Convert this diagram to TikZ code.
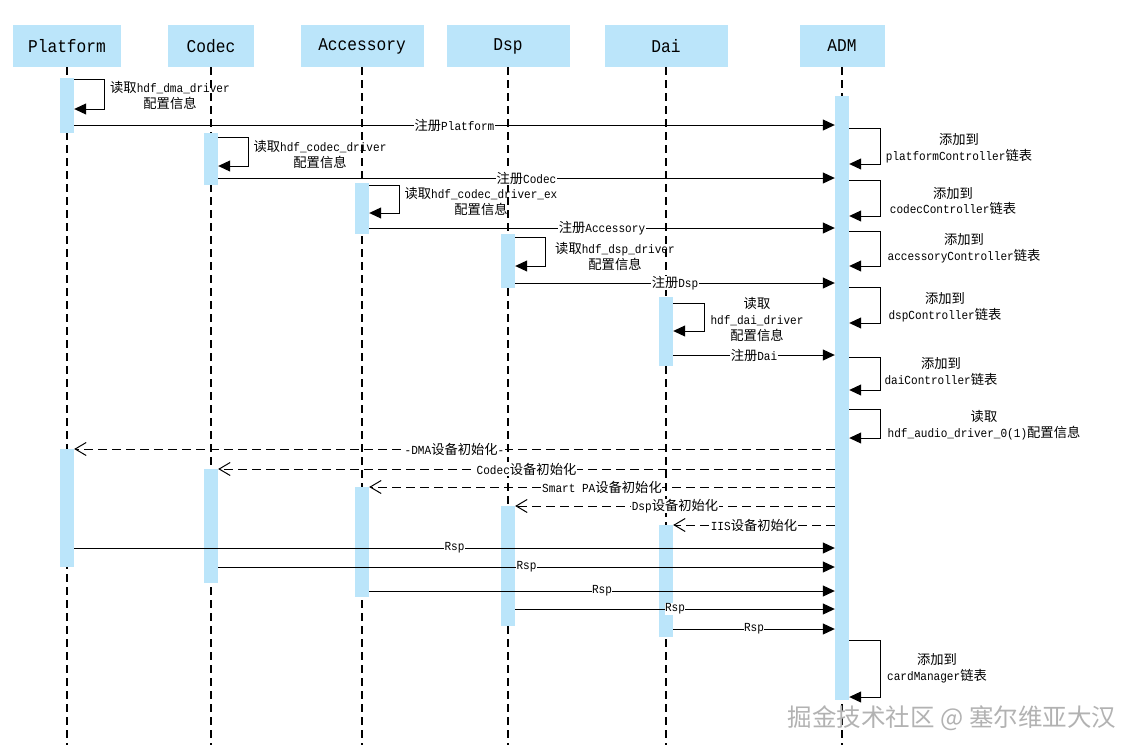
\documentclass[tikz,border=0pt]{standalone}
\usepackage{fontspec}
\setmainfont{Liberation Mono}[FakeStretch=0.9]
\newfontfamily\cjk{Noto Sans CJK SC}[Scale=1.08]
\newfontfamily\cjkmark{Noto Sans CJK SC}
\usetikzlibrary{arrows.meta}
\newcommand{\zh}[1]{{\cjk #1}}
\definecolor{lifeblue}{RGB}{187,229,250}
\tikzset{
	head/.style={fill=lifeblue,minimum height=42pt,inner sep=0pt,font=\fontsize{18}{22}\selectfont},
	life/.style={dash pattern=on 8pt off 5pt,line width=1.2pt},
	act/.style={fill=lifeblue,minimum width=14pt,inner sep=0pt,anchor=north},
	msg/.style={-{Triangle[length=12pt,width=11pt]},line width=1pt},
	ret/.style={-{Straight Barb[length=11pt,width=13pt]},dash pattern=on 9pt off 5pt,line width=1pt},
	lbl/.style={fill=white,inner sep=0.5pt,font=\fontsize{12.3}{15}\selectfont},
	note/.style={align=center,inner sep=0pt,font=\fontsize{12.3}{16}\selectfont}
}
\begin{document}
\begin{tikzpicture}[x=1pt,y=-1pt]
	\useasboundingbox (0,0) rectangle (1141,753);
	%Tieu de
	\node[head,minimum width=108pt] (pf) at (67,46) {Platform};
	\node[head,minimum width=86pt] (cd) at (211,46) {Codec};
	\node[head,minimum width=123pt] (ac) at (362,46) {Accessory};
	\node[head,minimum width=123pt] (ds) at (508,46) {Dsp};
	\node[head,minimum width=123pt] (da) at (666,46) {Dai};
	\node[head,minimum width=85pt] (adm) at (842,46) {ADM};
	%Duong song
	\draw[life] (pf.south) -- (pf.south |- 0,745);
	\draw[life] (cd.south) -- (cd.south |- 0,745);
	\draw[life] (ac.south) -- (ac.south |- 0,745);
	\draw[life] (ds.south) -- (ds.south |- 0,745);
	\draw[life] (da.south) -- (da.south |- 0,745);
	\draw[life] (adm.south) -- (adm.south |- 0,745);
	%Thanh kich hoat
	\node[act,minimum height=55pt] (pf1) at (67,78) {};
	\node[act,minimum height=118pt] (pf2) at (67,449) {};
	\node[act,minimum height=52pt] (cd1) at (211,133) {};
	\node[act,minimum height=114pt] (cd2) at (211,469) {};
	\node[act,minimum height=51pt] (ac1) at (362,183) {};
	\node[act,minimum height=110pt] (ac2) at (362,487) {};
	\node[act,minimum height=54pt] (ds1) at (508,234) {};
	\node[act,minimum height=120pt] (ds2) at (508,506) {};
	\node[act,minimum height=69pt] (da1) at (666,297) {};
	\node[act,minimum height=112pt] (da2) at (666,525) {};
	\node[act,minimum height=604pt] (adm1) at (842,96) {};
	%Platform
	\draw[msg] (pf1.east |- 0,79) -| (104,109) -- (pf1.east |- 0,109);
	\node[note] (pfcfg) at (170,95) {\zh{读取}hdf\_dma\_driver\\\zh{配置信息}};
	\draw[msg] (pf1.east |- 0,125) -- (adm1.west |- 0,125) node[lbl,midway] (pfreg) {\zh{注册}Platform};
	\draw[msg] (adm1.east |- 0,128) -| (880,164) -- (adm1.east |- 0,164);
	\node[note] (pfadd) at (959,148) {\zh{添加到}\\platformController\zh{链表}};
	%Codec
	\draw[msg] (cd1.east |- 0,137) -| (248,166) -- (cd1.east |- 0,166);
	\node[note] (cdcfg) at (320,154) {\zh{读取}hdf\_codec\_driver\\\zh{配置信息}};
	\draw[msg] (cd1.east |- 0,178) -- (adm1.west |- 0,178) node[lbl,midway] (cdreg) {\zh{注册}Codec};
	\draw[msg] (adm1.east |- 0,180) -| (880,216) -- (adm1.east |- 0,216);
	\node[note] (cdadd) at (953,201) {\zh{添加到}\\codecController\zh{链表}};
	%Accessory
	\draw[msg] (ac1.east |- 0,185) -| (399,213) -- (ac1.east |- 0,213);
	\node[note] (accfg) at (481,201) {\zh{读取}hdf\_codec\_driver\_ex\\\zh{配置信息}};
	\draw[msg] (ac1.east |- 0,228) -- (adm1.west |- 0,228) node[lbl,midway] (acreg) {\zh{注册}Accessory};
	\draw[msg] (adm1.east |- 0,231) -| (880,266) -- (adm1.east |- 0,266);
	\node[note] (acadd) at (964,248) {\zh{添加到}\\accessoryController\zh{链表}};
	%Dsp
	\draw[msg] (ds1.east |- 0,237) -| (545,266) -- (ds1.east |- 0,266);
	\node[note] (dscfg) at (615,256) {\zh{读取}hdf\_dsp\_driver\\\zh{配置信息}};
	\draw[msg] (ds1.east |- 0,283) -- (adm1.west |- 0,283) node[lbl,midway] (dsreg) {\zh{注册}Dsp};
	\draw[msg] (adm1.east |- 0,287) -| (880,323) -- (adm1.east |- 0,323);
	\node[note] (dsadd) at (945,307) {\zh{添加到}\\dspController\zh{链表}};
	%Dai
	\draw[msg] (da1.east |- 0,303) -| (704,331) -- (da1.east |- 0,331);
	\node[note] (dacfg) at (757,319) {\zh{读取}\\hdf\_dai\_driver\\\zh{配置信息}};
	\draw[msg] (da1.east |- 0,355) -- (adm1.west |- 0,355) node[lbl,midway] (dareg) {\zh{注册}Dai};
	\draw[msg] (adm1.east |- 0,357) -| (880,390) -- (adm1.east |- 0,390);
	\node[note] (daadd) at (941,371) {\zh{添加到}\\daiController\zh{链表}};
	%ADM doc cau hinh
	\draw[msg] (adm1.east |- 0,409) -| (880,438) -- (adm1.east |- 0,438);
	\node[note] (admcfg) at (984,425) {\zh{读取}\\hdf\_audio\_driver\_0(1)\zh{配置信息}};
	%Khoi tao
	\draw[ret] (adm1.west |- pf2.north) -- (pf2.north east) node[lbl,midway] (pfinit) {-DMA\zh{设备初始化}-};
	\draw[ret] (adm1.west |- cd2.north) -- (cd2.north east) node[lbl,midway] (cdinit) {Codec\zh{设备初始化}};
	\draw[ret] (adm1.west |- ac2.north) -- (ac2.north east) node[lbl,midway] (acinit) {Smart PA\zh{设备初始化}};
	\draw[ret] (adm1.west |- ds2.north) -- (ds2.north east) node[lbl,midway] (dsinit) {Dsp\zh{设备初始化}};
	\draw[ret] (adm1.west |- da2.north) -- (da2.north east) node[lbl,midway] (dainit) {IIS\zh{设备初始化}};
	%Rsp
	\draw[msg] (pf2.east |- 0,548) -- (adm1.west |- 0,548) node[lbl,midway] (pfrsp) {Rsp};
	\draw[msg] (cd2.east |- 0,567) -- (adm1.west |- 0,567) node[lbl,midway] (cdrsp) {Rsp};
	\draw[msg] (ac2.east |- 0,591) -- (adm1.west |- 0,591) node[lbl,midway] (acrsp) {Rsp};
	\draw[msg] (ds2.east |- 0,609) -- (adm1.west |- 0,609) node[lbl,midway] (dsrsp) {Rsp};
	\draw[msg] (da2.east |- 0,629) -- (adm1.west |- 0,629) node[lbl,midway] (darsp) {Rsp};
	%cardManager
	\draw[msg] (adm1.east |- 0,640) -| (880,697) -- (adm1.east |- 0,697);
	\node[note] (cmadd) at (937,668) {\zh{添加到}\\cardManager\zh{链表}};
	%Watermark
	\node[font=\cjkmark\fontsize{24.5}{26}\selectfont,text=gray!60] (wm) at (952,718) {掘金技术社区 @ 塞尔维亚大汉};
\end{tikzpicture}
\end{document}
